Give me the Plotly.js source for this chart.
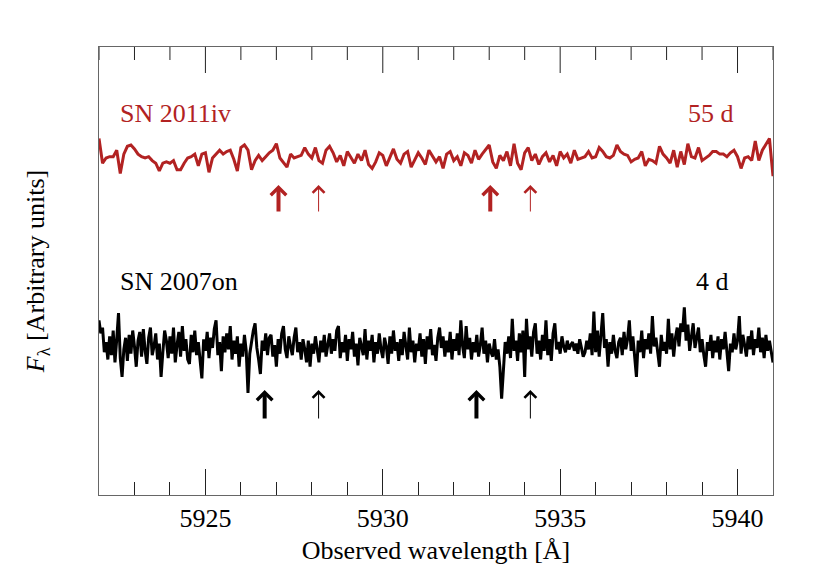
<!DOCTYPE html>
<html>
<head>
<meta charset="utf-8">
<script src="https://cdn.plot.ly/plotly-3.0.1.min.js"></script>
<style>
  html, body { margin: 0; padding: 0; background: #fff; }
  #chart { width: 830px; height: 576px; }
</style>
</head>
<body>
<div id="chart"></div>
<script>
// Spectra: normalised flux on a regular wavelength grid (Angstrom)
var wlStart = 5922.0;
var wlEnd = 5941.0;
var redStep = 0.1;
var blackStep = 0.05;
var majorTicks = [5925, 5930, 5935, 5940];

// SN 2011iv, 55 d
var redFlux = [
  1.15, 0.96, 1.00, 1.01, 1.01, 1.06, 0.88, 1.03, 1.09, 1.10, 1.07, 1.03, 1.01, 1.00, 1.01, 0.98, 0.96, 0.90, 0.96, 0.97,
  0.96, 0.98, 0.91, 0.91, 0.96, 1.00, 1.01, 1.03, 0.94, 1.03, 1.04, 0.89, 1.00, 1.03, 1.06, 1.03, 1.05, 1.06, 0.99, 0.90,
  1.08, 1.10, 1.06, 0.91, 0.98, 1.02, 0.98, 1.01, 1.04, 1.06, 1.11, 1.00, 0.96, 0.93, 1.03, 1.00, 1.01, 1.02, 1.08, 1.03,
  1.00, 1.08, 0.98, 0.96, 1.06, 1.09, 1.04, 0.97, 1.02, 0.94, 1.05, 1.01, 0.96, 1.03, 0.98, 1.06, 0.95, 0.92, 0.97, 1.04,
  1.02, 0.94, 1.01, 1.07, 0.99, 0.96, 1.03, 1.05, 0.93, 0.98, 1.04, 1.00, 0.95, 1.06, 1.02, 0.97, 1.01, 0.92, 1.03, 1.05,
  0.98, 1.01, 0.94, 1.04, 1.02, 0.96, 1.06, 0.99, 1.03, 1.07, 1.10, 0.97, 0.92, 1.02, 0.98, 1.05, 0.94, 1.11, 0.96, 0.91,
  1.04, 1.08, 0.98, 1.03, 0.95, 1.01, 1.04, 0.97, 1.02, 0.94, 1.05, 1.00, 1.03, 0.96, 1.06, 0.99, 1.00, 1.01, 1.05, 1.00,
  1.01, 1.08, 1.05, 1.01, 1.00, 1.02, 1.10, 1.05, 1.03, 1.02, 0.97, 0.99, 1.00, 1.05, 0.94, 0.99, 0.98, 0.96, 1.09, 1.03,
  1.00, 0.96, 1.06, 0.93, 1.05, 0.95, 1.11, 1.01, 1.00, 1.08, 0.98, 1.00, 1.02, 1.05, 1.05, 1.03, 1.03, 1.01, 1.04, 1.06,
  1.01, 0.92, 1.00, 1.01, 0.98, 1.13, 0.98, 1.06, 1.11, 1.15, 0.86
];

// SN 2007on, 4 d
var blackFlux = [
  1.17, 1.08, 1.12, 0.95, 1.02, 0.90, 1.06, 0.93, 1.10, 0.88, 1.04, 1.22, 0.91, 0.78, 0.97, 1.05, 0.89, 1.07, 0.94, 1.10,
  0.99, 0.85, 1.03, 1.09, 0.92, 1.11, 0.96, 0.87, 1.05, 1.12, 0.93, 0.99, 1.08, 0.90, 1.01, 0.78, 0.95, 1.10, 1.03, 0.91,
  1.06, 0.94, 1.12, 0.88, 1.00, 1.09, 0.92, 1.13, 0.96, 1.04, 0.90, 0.87, 1.07, 0.95, 1.10, 0.93, 1.02, 0.89, 0.77, 1.04,
  0.96, 1.09, 0.91, 1.05, 0.98, 1.11, 1.17, 0.93, 1.02, 0.82, 1.06, 0.95, 1.08, 0.97, 1.13, 0.90, 1.03, 0.94, 1.06, 0.85,
  1.01, 0.92, 1.07, 0.96, 0.67, 0.94, 1.04, 1.10, 1.15, 0.98, 0.90, 0.80, 1.03, 0.96, 1.08, 0.93, 1.05, 1.07, 0.92, 1.00,
  0.85, 1.04, 0.94, 1.08, 1.13, 0.97, 0.91, 1.06, 0.99, 0.93, 1.05, 1.12, 0.95, 1.02, 0.90, 1.04, 0.97, 0.88, 1.03, 0.85,
  1.01, 0.94, 1.06, 0.97, 0.88, 1.03, 0.95, 1.07, 0.92, 1.00, 1.08, 0.94, 1.04, 0.96, 1.10, 1.13, 0.91, 1.02, 0.95, 1.07,
  0.89, 1.04, 0.97, 1.09, 0.92, 1.01, 0.86, 1.05, 0.98, 0.93, 1.11, 0.90, 1.03, 0.96, 1.07, 0.88, 1.02, 0.94, 1.08, 0.97,
  0.91, 1.05, 0.99, 0.87, 1.06, 0.94, 1.10, 0.96, 1.02, 0.89, 1.04, 0.93, 1.09, 0.98, 0.90, 1.12, 0.95, 1.03, 0.88, 1.01,
  0.96, 1.08, 0.92, 1.04, 0.87, 1.06, 0.97, 1.11, 0.93, 1.00, 0.89, 1.05, 1.12, 0.98, 1.06, 0.92, 1.03, 0.95, 1.09, 0.90,
  1.04, 0.96, 1.08, 0.93, 1.17, 0.99, 0.91, 1.13, 0.97, 1.05, 0.90, 1.02, 0.95, 1.07, 0.92, 1.00, 1.12, 0.94, 1.03, 0.88,
  1.01, 0.95, 0.92, 1.04, 0.90, 0.97, 0.85, 0.63, 0.86, 1.02, 0.94, 1.06, 0.91, 1.18, 0.96, 1.03, 0.89, 1.08, 0.95, 1.10,
  0.78, 1.18, 0.97, 1.06, 0.92, 1.09, 1.15, 0.94, 1.03, 0.90, 1.07, 0.96, 1.17, 0.93, 1.04, 0.89, 1.08, 1.15, 0.97, 1.02,
  0.94, 1.06, 0.99, 0.95, 1.03, 0.97, 1.00, 1.02, 0.96, 1.01, 0.94, 1.04, 0.98, 0.92, 0.95, 1.03, 0.97, 1.08, 0.93, 1.23,
  0.95, 1.10, 0.92, 1.06, 1.22, 0.98, 1.04, 0.85, 1.02, 0.94, 1.07, 0.96, 0.91, 1.02, 1.05, 0.93, 1.09, 0.97, 1.04, 1.17,
  0.96, 1.06, 0.92, 0.78, 1.03, 0.95, 1.10, 0.91, 1.04, 0.97, 1.08, 0.94, 1.20, 0.99, 1.05, 0.93, 0.85, 1.07, 0.96, 1.02,
  0.94, 1.18, 0.97, 1.08, 0.92, 1.05, 1.12, 0.99, 1.15, 1.09, 1.26, 1.03, 1.14, 0.96, 1.08, 1.15, 0.98, 1.06, 1.12, 0.95,
  1.04, 0.93, 0.85, 1.02, 0.96, 1.07, 0.91, 1.03, 0.95, 1.06, 0.90, 1.04, 0.97, 1.09, 0.93, 0.82, 1.01, 0.95, 1.08, 0.97,
  1.03, 1.20, 0.94, 1.07, 1.00, 0.92, 1.06, 0.97, 1.10, 0.93, 1.04, 0.98, 1.12, 0.95, 1.05, 0.91, 1.07, 0.96, 1.03, 0.94,
  0.88
];

// Expected Na I D positions (thick: host, thin: Milky Way)
var redThick = [5927.06, 5933.03];
var redThin = [5928.19, 5934.16];
var blackThick = [5926.67, 5932.64];
var blackThin = [5928.19, 5934.16];

// display scaling / offsets of the two spectra (arbitrary units)
var redScale = 1.3, redOffset = 0.0;
var blackScale = 1.45, blackOffset = -1.87;
var redColor = 'rgb(178,34,34)';
var serif = 'Liberation Serif, Times New Roman, serif';

function grid(n, step) {
  var out = [];
  for (var i = 0; i < n; i++) out.push(+(wlStart + i * step).toFixed(3));
  return out;
}
function shown(flux, scale, offset) {
  return flux.map(function (v) { return 1 + (v - 1) * scale + offset; });
}

var traceRed = {
  x: grid(redFlux.length, redStep),
  y: shown(redFlux, redScale, redOffset),
  type: 'scatter', mode: 'lines',
  line: { color: redColor, width: 3 },
  hoverinfo: 'skip'
};

var traceBlack = {
  x: grid(blackFlux.length, blackStep),
  y: shown(blackFlux, blackScale, blackOffset),
  type: 'scatter', mode: 'lines',
  line: { color: 'black', width: 3 },
  hoverinfo: 'skip'
};

// arrows pointing up at the line positions
function arrows(list, tip, tail, color, width, size) {
  return list.map(function (w) {
    return {
      x: w, y: tip, ax: w, ay: tail,
      xref: 'x', yref: 'y', axref: 'x', ayref: 'y',
      showarrow: true, arrowhead: 4, arrowwidth: width, arrowsize: size,
      arrowcolor: color, standoff: 0, text: ''
    };
  });
}

var labels = [
  { x: 5922.53, y: 1.45, text: 'SN 2011iv', xanchor: 'left', color: redColor },
  { x: 5939.96, y: 1.45, text: '55 d', xanchor: 'right', color: redColor },
  { x: 5922.53, y: -0.23, text: 'SN 2007on', xanchor: 'left', color: 'black' },
  { x: 5939.82, y: -0.23, text: '4 d', xanchor: 'right', color: 'black' }
].map(function (a) {
  return {
    x: a.x, y: a.y, xref: 'x', yref: 'y', text: a.text, showarrow: false,
    xanchor: a.xanchor, yanchor: 'middle',
    font: { family: serif, size: 26, color: a.color }
  };
});

var annotations = labels
  .concat(arrows(redThick, 0.73, 0.45, redColor, 4, 0.75))
  .concat(arrows(redThin, 0.73, 0.45, redColor, 1, 2.3))
  .concat(arrows(blackThick, -1.32, -1.62, 'black', 4, 0.75))
  .concat(arrows(blackThin, -1.32, -1.62, 'black', 1, 2.3));

// ticks along the top frame (mirrored axis ticks do not render here)
var plotHeight = 576 - 47 - 81;
var topTicks = [];
for (var w = Math.ceil(wlStart); w <= wlEnd; w++) {
  var len = majorTicks.indexOf(w) >= 0 ? 26 : 13;
  topTicks.push({
    type: 'line', xref: 'x', yref: 'paper',
    x0: w, x1: w, y0: 1, y1: 1 - len / plotHeight,
    line: { color: '#222', width: 1 }
  });
}

var layout = {
  width: 830, height: 576,
  margin: { l: 99, r: 57, t: 47, b: 81 },
  paper_bgcolor: 'white', plot_bgcolor: 'white',
  showlegend: false,
  font: { family: serif, size: 26, color: 'black' },
  xaxis: {
    range: [wlStart, wlEnd],
    tickvals: majorTicks,
    ticks: 'inside', ticklen: 26, tickwidth: 1, tickcolor: '#222',
    minor: { dtick: 1, ticks: 'inside', ticklen: 13, tickwidth: 1, tickcolor: '#222' },
    showgrid: false, zeroline: false,
    showline: true, linecolor: '#666', linewidth: 1, mirror: true,
    tickfont: { family: serif, size: 26 },
    title: { text: 'Observed wavelength [Å]', font: { family: serif, size: 26 }, standoff: 8 }
  },
  yaxis: {
    range: [-2.37, 2.11],
    showticklabels: false, ticks: '',
    showgrid: false, zeroline: false,
    showline: true, linecolor: '#666', linewidth: 1, mirror: true,
    title: { text: '<i>F</i><sub>λ</sub> [Arbitrary units]', font: { family: serif, size: 26 }, standoff: 45 }
  },
  shapes: topTicks,
  annotations: annotations
};

Plotly.newPlot('chart', [traceRed, traceBlack], layout, { displayModeBar: false });
</script>
</body>
</html>
